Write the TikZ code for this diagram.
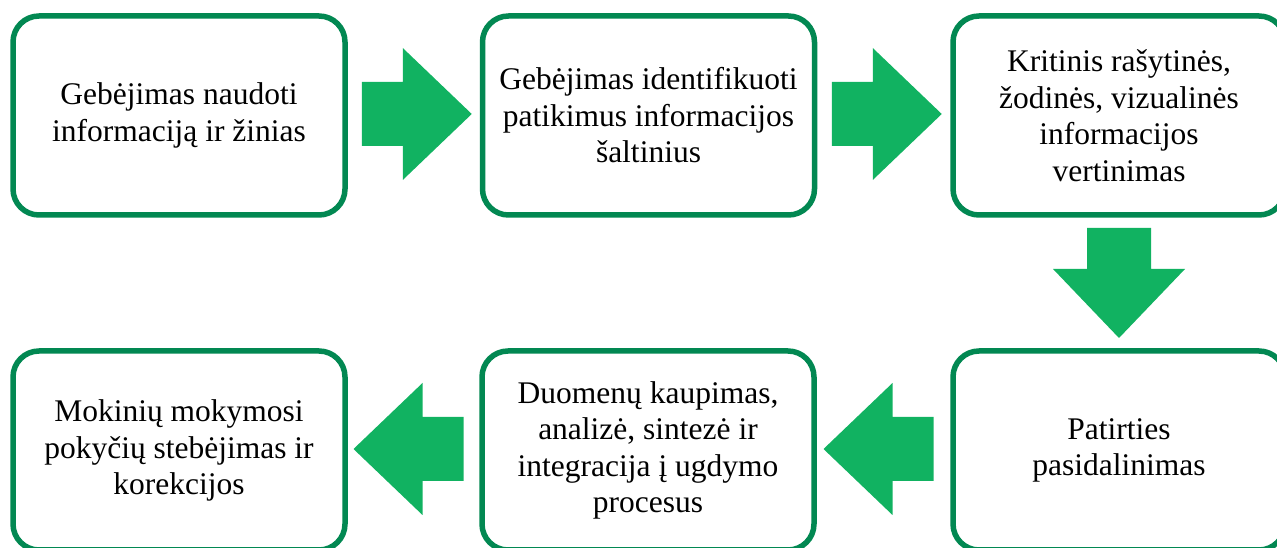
\documentclass[tikz,border=0pt]{standalone}
\usepackage{fontspec}
\newfontfamily\boxfont{Liberation Serif}
\usepackage{tikz}
\usetikzlibrary{positioning,calc}

\definecolor{boxgreen}{RGB}{2,136,82}
\definecolor{arrowgreen}{RGB}{17,178,97}

\tikzset{
	stagebox/.style={draw=boxgreen, line width=5.5pt, rounded corners=26pt, fill=white,
		minimum width=332pt, minimum height=199pt, align=center,
		font=\fontsize{31.5}{36.5}\selectfont\boxfont},
	blockarrow/.style={fill=arrowgreen}
}

% block arrow pointing right, centred on #1, turned by #2 degrees
\newcommand{\greenarrow}[2]{
	\fill[blockarrow, shift={(#1)}, rotate=#2]
		(-55,-32) -- (-14,-32) -- (-14,-66) -- (55,0) -- (-14,66) -- (-14,32) -- (-55,32) -- cycle;
}

\begin{document}
\begin{tikzpicture}[x=1pt,y=1pt]
	\useasboundingbox (0,0) rectangle (1277,548);
	\clip (0,0) rectangle (1277,548);
	% top row
	\node[stagebox] (naudoti) at (179,432.5) {Gebėjimas naudoti\\informaciją ir žinias};
	\node[stagebox] (saltiniai) at (648.5,432.5) {Gebėjimas identifikuoti\\patikimus informacijos\\šaltinius};
	\node[stagebox] (vertinimas) at (1119,432.5) {Kritinis rašytinės,\\žodinės, vizualinės\\informacijos\\vertinimas};
	% bottom row
	\node[stagebox] (patirtis) at (1119,97.5) {Patirties\\pasidalinimas};
	\node[stagebox] (duomenys) at (648,97.5) {Duomenų kaupimas,\\analizė, sintezė ir\\integracija į ugdymo\\procesus};
	\node[stagebox] (korekcijos) at (179,97.5) {Mokinių mokymosi\\pokyčių stebėjimas ir\\korekcijos};
	% arrows between the boxes
	\coordinate (a1) at ($(naudoti.east)!0.5!(saltiniai.west)+(3,1.5)$);
	\coordinate (a2) at ($(saltiniai.east)!0.5!(vertinimas.west)+(3,1.5)$);
	\coordinate (a3) at ($(vertinimas.south)!0.5!(patirtis.north)$);
	\coordinate (a4) at ($(duomenys.east)!0.5!(patirtis.west)+(-5,1.5)$);
	\coordinate (a5) at ($(korekcijos.east)!0.5!(duomenys.west)+(-5,1.5)$);
	\greenarrow{a1}{0}
	\greenarrow{a2}{0}
	\greenarrow{a3}{-90}
	\greenarrow{a4}{180}
	\greenarrow{a5}{180}
\end{tikzpicture}
\end{document}
